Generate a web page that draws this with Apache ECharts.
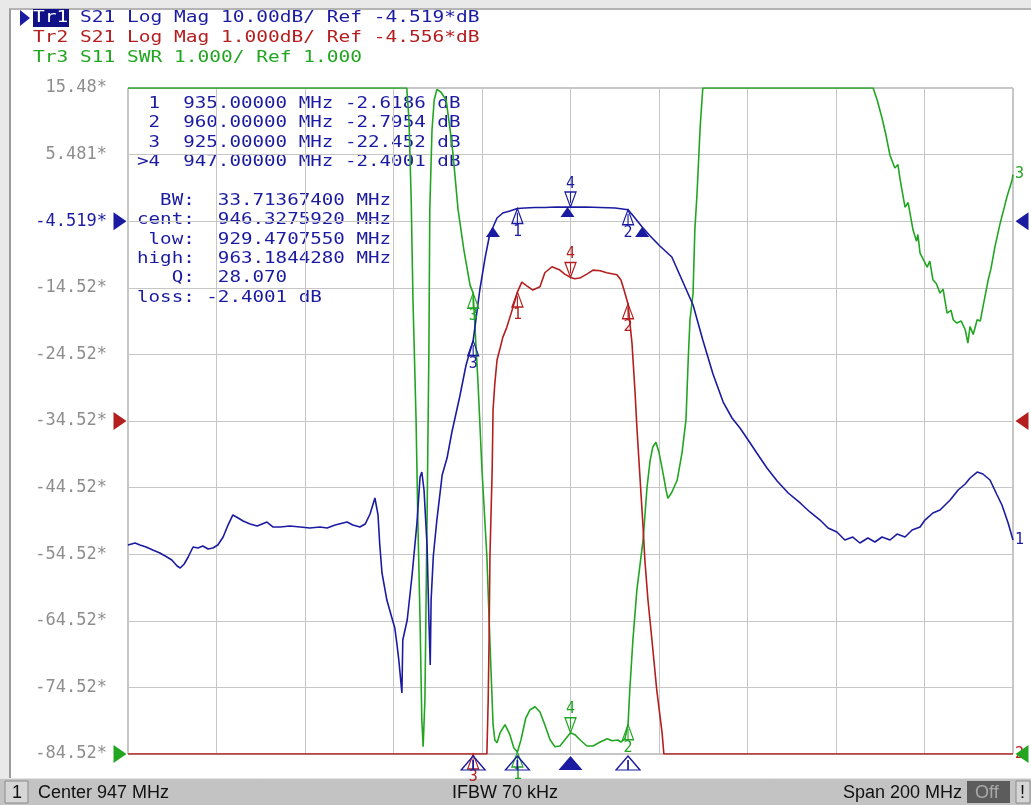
<!DOCTYPE html>
<html><head><meta charset="utf-8">
<script src="https://cdn.jsdelivr.net/npm/echarts@6/dist/echarts.min.js"></script>
<style>
html,body{margin:0;padding:0;background:#e9e9e9;width:1031px;height:805px;overflow:hidden;}
#frame{position:absolute;left:9px;top:8px;width:1022px;height:770px;background:#fff;border-left:2px solid #9c9c9c;border-top:2px solid #b4b4b4;box-sizing:border-box;}
#c{position:absolute;left:0;top:0;width:1031px;height:805px;}
</style></head>
<body><div id="frame"></div><div id="c"></div>
<script>
// ---------- stimulus / scales ----------
const F_START = 847, F_STOP = 1047, F_DIV = 20;          // MHz (Center 947, Span 200)
const Y0_MIN = -84.52, Y0_MAX = 15.48, Y0_DIV = 10;       // Tr1 dB (10 dB/div, ref -4.519)
const TR1_REF = -4.519, TR2_REF = -4.556, TR3_REF = 1.0;
const Y1_MIN = -9.556, Y1_MAX = 0.444;                    // Tr2 dB (1 dB/div)
const Y2_MIN = 1, Y2_MAX = 11;                            // Tr3 SWR (1/div)
const yTickLabels = ["-84.52*","-74.52*","-64.52*","-54.52*","-44.52*","-34.52*","-24.52*","-14.52*","-4.519*","5.481*","15.48*"];

// ---------- traces: [MHz, value] ----------
const tr1S21 = [[847.0,-53.14],[848.6,-52.84],[849.7,-53.14],[851.1,-53.44],[852.6,-53.89],[854.2,-54.34],[855.8,-54.94],[856.9,-55.39],[858.1,-56.29],[858.8,-56.59],[859.7,-55.99],[860.6,-54.94],[861.7,-53.44],[862.8,-53.59],[863.9,-53.29],[865.1,-53.74],[866.2,-53.59],[867.3,-53.14],[868.5,-51.94],[869.6,-50.14],[870.7,-48.63],[871.9,-49.09],[873.0,-49.54],[874.6,-49.99],[876.2,-50.29],[877.3,-49.99],[878.4,-49.69],[879.8,-50.44],[881.4,-50.44],[883.6,-50.29],[885.9,-50.44],[888.1,-50.59],[890.4,-50.44],[892.0,-50.59],[893.8,-50.14],[896.5,-49.69],[897.8,-50.14],[899.4,-50.44],[900.6,-49.99],[901.7,-48.48],[902.8,-46.08],[903.5,-48.63],[903.9,-53.14],[904.4,-57.34],[905.5,-61.40],[906.9,-64.70],[907.3,-65.60],[907.8,-68.15],[908.2,-70.40],[908.9,-75.36],[909.1,-67.40],[910.1,-64.40],[911.2,-57.64],[912.3,-49.84],[913.0,-42.93],[913.4,-42.18],[913.9,-44.88],[914.6,-53.44],[915.0,-64.40],[915.3,-71.16],[915.5,-61.40],[916.0,-54.79],[916.8,-49.39],[918.0,-42.63],[919.1,-40.08],[920.2,-36.17],[922.0,-30.77],[923.4,-26.11],[925.0,-22.45],[926.5,-14.85],[927.7,-10.04],[928.8,-6.29],[929.5,-5.39],[930.4,-4.04],[931.7,-3.29],[933.3,-2.99],[935.0,-2.62],[936.7,-2.54],[939.0,-2.46],[941.2,-2.46],[943.6,-2.39],[947.0,-2.40],[950.4,-2.39],[953.7,-2.46],[957.1,-2.54],[960.0,-2.80],[961.2,-3.74],[963.2,-5.39],[965.0,-6.74],[967.2,-8.24],[969.9,-9.89],[972.4,-13.65],[974.7,-17.10],[976.9,-22.36],[979.2,-27.46],[981.5,-31.67],[983.5,-34.07],[985.3,-35.57],[987.6,-37.82],[989.1,-39.32],[991.4,-41.58],[993.7,-43.53],[996.2,-45.33],[998.9,-46.83],[1001.1,-48.18],[1003.4,-49.39],[1005.2,-50.59],[1007.2,-51.19],[1009.0,-52.39],[1010.8,-51.94],[1012.4,-52.84],[1014.2,-52.09],[1015.8,-52.69],[1017.4,-51.94],[1019.2,-52.39],[1020.8,-51.49],[1022.6,-51.94],[1024.2,-50.89],[1026.0,-50.44],[1027.1,-49.39],[1028.9,-48.33],[1030.5,-47.88],[1032.8,-46.38],[1034.6,-44.88],[1036.2,-43.98],[1037.3,-43.08],[1038.9,-42.18],[1040.2,-42.48],[1041.8,-43.38],[1043.4,-45.63],[1044.5,-47.13],[1045.9,-49.84],[1047.0,-52.39]];

const tr2S21 = [[847.0,-9.556],[928.1,-9.556],[928.4,-8.75],[928.6,-7.84],[928.8,-6.58],[929.3,-5.29],[929.5,-4.39],[929.9,-3.99],[930.4,-3.64],[931.1,-3.46],[931.7,-3.30],[932.6,-3.15],[933.3,-3.00],[934.5,-2.74],[935.0,-2.62],[936.0,-2.47],[937.2,-2.53],[938.5,-2.59],[940.1,-2.54],[941.2,-2.33],[942.8,-2.24],[944.6,-2.29],[945.7,-2.35],[947.0,-2.40],[948.0,-2.42],[949.1,-2.41],[950.7,-2.35],[952.1,-2.29],[953.7,-2.30],[955.2,-2.33],[957.5,-2.36],[958.4,-2.44],[959.1,-2.59],[960.0,-2.80],[960.4,-3.07],[960.9,-3.39],[961.6,-4.14],[962.0,-4.65],[962.7,-5.40],[963.4,-6.15],[963.8,-6.64],[964.5,-7.24],[965.4,-7.84],[966.5,-8.60],[967.7,-9.24],[968.1,-9.556],[1047.0,-9.556]];

const tr3S11Swr = [[847.0,11],[910.0,11],[910.5,10.52],[911.0,9.32],[911.4,7.82],[912.1,6.02],[912.5,4.51],[913.0,3.01],[913.4,1.51],[913.7,1.11],[914.1,1.81],[914.6,4.62],[915.0,7.07],[915.2,9.17],[915.7,10.37],[916.2,10.82],[916.8,10.98],[917.7,10.94],[918.9,10.82],[919.8,10.37],[920.4,10.04],[921.6,9.17],[922.9,8.57],[924.3,8.04],[925.0,7.92],[926.1,6.57],[927.0,5.26],[928.1,3.97],[928.8,2.67],[929.5,1.44],[929.9,1.21],[930.4,1.17],[931.1,1.32],[932.2,1.44],[933.3,1.29],[934.2,1.09],[935.0,1.03],[935.8,1.21],[936.9,1.54],[937.8,1.66],[939.0,1.71],[940.1,1.63],[941.2,1.44],[942.4,1.21],[943.5,1.11],[944.6,1.12],[945.7,1.21],[947.0,1.32],[948.0,1.29],[949.2,1.21],[950.7,1.12],[952.1,1.12],[953.7,1.18],[955.3,1.23],[956.4,1.20],[957.7,1.21],[958.4,1.18],[959.3,1.23],[960.0,1.44],[960.4,1.96],[961.1,2.71],[962.0,3.46],[963.4,4.21],[964.3,5.01],[965.0,5.41],[965.6,5.61],[966.3,5.68],[967.0,5.53],[967.9,5.22],[968.6,4.96],[969.0,4.84],[969.9,4.93],[971.1,5.11],[972.2,5.52],[973.1,6.02],[973.6,6.92],[974.0,7.52],[974.7,7.92],[975.1,8.87],[975.6,9.42],[976.3,10.41],[976.9,11],[1015.4,11],[1016.3,10.82],[1017.4,10.55],[1018.3,10.29],[1019.2,9.99],[1020.3,9.80],[1021.0,9.85],[1021.5,9.62],[1022.6,9.21],[1023.3,9.28],[1024.4,8.87],[1025.2,8.70],[1025.5,8.80],[1026.0,8.52],[1027.6,8.31],[1028.2,8.40],[1028.9,8.12],[1029.7,8.06],[1030.5,7.92],[1031.2,7.98],[1032.1,7.62],[1033.0,7.66],[1033.5,7.52],[1034.3,7.47],[1035.3,7.50],[1036.2,7.37],[1036.8,7.17],[1037.3,7.42],[1038.0,7.30],[1038.9,7.52],[1039.6,7.50],[1040.2,7.71],[1041.4,8.12],[1042.0,8.28],[1042.9,8.61],[1044.1,8.97],[1045.0,9.20],[1045.6,9.36],[1046.8,9.62],[1047.0,9.70]];

// ---------- markers ----------
const markerNames = ["1","2","3","4"];
const markerFreq  = [935, 960, 925, 947];
const tr1MarkerDb = [-2.6186, -2.7954, -22.452, -2.4001];
const tr2MarkerDb = [-2.6186, -2.7954, -22.452, -2.4001];
const tr3MarkerSwr = [1.03, 1.44, 7.92, 1.32];
const ACTIVE_MARKER = 3;
const bwLabels = ["BW:","cent:","low:","high:","Q:","loss:"];
const bwValues = ["33.71367400 MHz","946.3275920 MHz","929.4707550 MHz","963.1844280 MHz","28.070","-2.4001 dB"];
const bwFreq = [929.4707550, 946.3275920, 963.1844280];
const bwDb   = [-5.4001, -2.4001, -5.4001];

// ---------- styles ----------
const C1 = '#1b1ba2', C2 = '#b41e1e', C3 = '#22a622';
const MONO = '"DejaVu Sans Mono", monospace';
const CW = 11.55;   // char cell width, marker table
const CWH = 11.75;  // char cell width, header
const mono16 = 16 * 0.602;
const TRI_UP = 'path://M6,0L12,14L0,14Z M6,4L6,14';
const TRI_DN = 'path://M0,0L12,0L6,14Z M6,0L6,10';
const TRI_UP_SOLID = 'path://M6,0L12,10L0,10Z';
const TRI_RIGHT = 'path://M0,0L10,7L0,14Z';
const TRI_LEFT = 'path://M10,0L0,7L10,14Z';
const HOLLOW = (c) => ({color:'rgba(0,0,0,0)', borderColor:c, borderWidth:1.3, opacity:1});

function traceSeries(data, yIdx, color, endText) {
  return {type:'line', data, yAxisIndex:yIdx, symbol:'none', showSymbol:false, silent:true,
    lineStyle:{color, width:1.6}, z:3,
    endLabel:{show:true, formatter:endText, color, fontFamily:MONO, fontSize:15, distance:2}};
}
function markerSeries(yIdx, vals, yMin, color) {
  const data = markerFreq.map((f, i) => {
    const active = i === ACTIVE_MARKER;
    return {value:[f, Math.max(vals[i], yMin)],
      symbol: active ? TRI_DN : TRI_UP, symbolSize:[11,15],
      symbolOffset:[0, active ? '-50%' : '50%'],
      label:{show:true, position: active ? 'top' : 'bottom', distance:0, formatter: markerNames[i],
        color, fontFamily:MONO, fontSize:15}};
  });
  return {type:'scatter', yAxisIndex:yIdx, data, clip:false, silent:true, z:6, itemStyle:HOLLOW(color)};
}
function refSeries(yIdx, ref, color) {
  return {type:'scatter', yAxisIndex:yIdx, clip:false, silent:true, z:6, itemStyle:{color, opacity:1},
    data:[{value:[F_START, ref], symbol:TRI_RIGHT, symbolSize:[13,18], symbolOffset:[-8,0]},
          {value:[F_STOP, ref], symbol:TRI_LEFT, symbolSize:[13,18], symbolOffset:[9,0]}]};
}
function mono(str, x, y, color, cw) {
  return {type:'text', x, y, scaleX:(cw||CW)/mono16, silent:true,
    style:{text:str, font:'16px "DejaVu Sans Mono"', fill:color, verticalAlign:'middle', align:'left'}};
}
function sans(str, x, y, color) {
  return {type:'text', x, y, silent:true,
    style:{text:str, font:'18px "Liberation Sans"', fill:color, verticalAlign:'middle', align:'left'}};
}

// marker readout table
const tableRows = markerFreq.map((f, i) =>
  (i === ACTIVE_MARKER ? '>' : ' ') + markerNames[i] + '  ' + f.toFixed(5) + ' MHz ' + tr1MarkerDb[i].toPrecision(5) + ' dB');
const bwRows = bwLabels.map((l, i) => l.padStart(5, ' ') + (bwValues[i].startsWith('-') ? ' ' : '  ') + bwValues[i]);

const graphics = [];
// header
graphics.push({type:'polygon', silent:true, shape:{points:[[20,10],[30,18],[20,26]]}, style:{fill:C1}});
graphics.push({type:'rect', silent:true, shape:{x:33, y:9, width:36, height:18}, style:{fill:'#101088'}});
graphics.push(mono('Tr1', 33, 18, '#ffffff', CWH));
graphics.push(mono('S21 Log Mag 10.00dB/ Ref -4.519*dB', 33 + 4*CWH, 18, C1, CWH));
graphics.push(mono('Tr2 S21 Log Mag 1.000dB/ Ref -4.556*dB', 33, 38, C2, CWH));
graphics.push(mono('Tr3 S11 SWR 1.000/ Ref 1.000', 33, 58, C3, CWH));
// marker table
tableRows.forEach((r, i) => graphics.push(mono(r, 137, 104 + i*19.3, C1)));
bwRows.forEach((r, i) => graphics.push(mono(r, 137, 201 + i*19.3, C1)));
// status bar
graphics.push({type:'rect', silent:true, shape:{x:0, y:778, width:1031, height:27}, style:{fill:'#c3c3c3'}});
graphics.push({type:'line', silent:true, shape:{x1:0, y1:778.5, x2:1031, y2:778.5}, style:{stroke:'#e4e4e4', lineWidth:1}});
graphics.push({type:'rect', silent:true, shape:{x:5, y:781, width:23, height:22}, style:{fill:'#d6d6d6', stroke:'#8a8a8a', lineWidth:1}});
graphics.push(sans('1', 12, 793, '#111'));
graphics.push(sans('Center 947 MHz', 38, 793, '#111'));
graphics.push(sans('IFBW 70 kHz', 452, 793, '#111'));
graphics.push(sans('Span 200 MHz', 843, 793, '#111'));
graphics.push({type:'rect', silent:true, shape:{x:967, y:781, width:43, height:22}, style:{fill:'#5c5c5c'}});
graphics.push(sans('Off', 975, 793, '#a8a8a8'));
graphics.push({type:'rect', silent:true, shape:{x:1016, y:781, width:14, height:22}, style:{fill:'#d6d6d6', stroke:'#8a8a8a', lineWidth:1}});
graphics.push(sans('!', 1020, 793, '#111'));

const splitStyle = {show:true, lineStyle:{color:'#c6c6c6', width:1}};
const option = {
  animation:false,
  grid:{left:128, top:88, width:885, height:666, show:true, borderColor:'#8c8c8c', borderWidth:1, backgroundColor:'#ffffff'},
  xAxis:{type:'value', min:F_START, max:F_STOP, interval:F_DIV,
    axisLine:{show:false}, axisTick:{show:false}, axisLabel:{show:false}, splitLine:splitStyle},
  yAxis:[
    {type:'value', min:Y0_MIN, max:Y0_MAX, interval:Y0_DIV, position:'left',
      axisLine:{show:false}, axisTick:{show:false}, splitLine:splitStyle,
      axisLabel:{margin:21, fontFamily:MONO, fontSize:17,
        formatter:(v) => { const s = yTickLabels[Math.round((v - Y0_MIN) / Y0_DIV)] || '';
          return s === '-4.519*' ? '{b|' + s + '}' : '{g|' + s + '}'; },
        rich:{b:{color:C1, fontFamily:MONO, fontSize:17}, g:{color:'#8e8e8e', fontFamily:MONO, fontSize:17}}}},
    {type:'value', min:Y1_MIN, max:Y1_MAX, show:false, splitLine:{show:false}},
    {type:'value', min:Y2_MIN, max:Y2_MAX, show:false, splitLine:{show:false}}
  ],
  series:[
    traceSeries(tr3S11Swr, 2, C3, '3'),
    traceSeries(tr2S21, 1, C2, '2'),
    traceSeries(tr1S21, 0, C1, '1'),
    markerSeries(2, tr3MarkerSwr, Y2_MIN, C3),
    markerSeries(1, tr2MarkerDb, Y1_MIN, C2),
    markerSeries(0, tr1MarkerDb, Y0_MIN, C1),
    {type:'scatter', yAxisIndex:0, clip:false, silent:true, z:7,
      data: bwFreq.map((f, i) => [f, bwDb[i]]),
      symbol:TRI_UP_SOLID, symbolSize:[14,10], symbolOffset:[0,'50%'], itemStyle:{color:C1, opacity:1}},
    {type:'scatter', yAxisIndex:0, clip:false, silent:true, z:7,
      data: markerFreq.map((f, i) => ({value:[f, Y0_MIN],
        symbol: i === ACTIVE_MARKER ? TRI_UP_SOLID : TRI_UP,
        itemStyle: i === ACTIVE_MARKER ? {color:C1, opacity:1} : HOLLOW(C1)})),
      symbolSize:[24,14], symbolOffset:[0,9]},
    refSeries(0, TR1_REF, C1),
    refSeries(1, TR2_REF, C2),
    refSeries(2, TR3_REF, C3)
  ],
  graphic:{elements:graphics}
};
const chart = echarts.init(document.getElementById('c'), null, {renderer:'canvas'});
chart.setOption(option);
</script></body></html>
